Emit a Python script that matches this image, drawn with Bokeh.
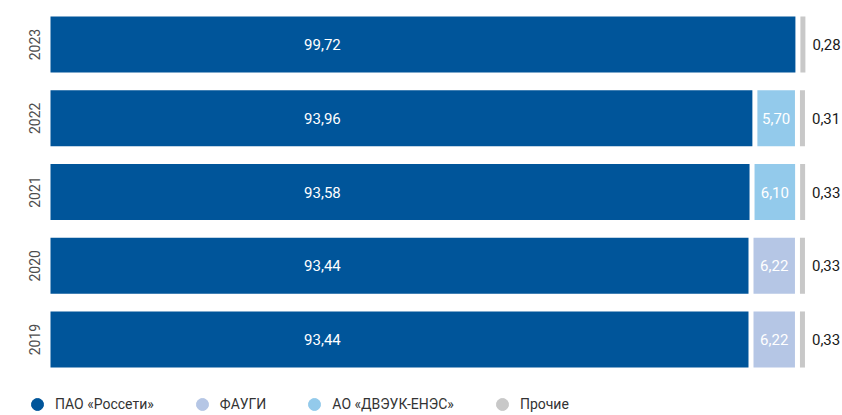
from bokeh.plotting import figure
from bokeh.models import Range1d, Legend, LegendItem, FixedTicker
from bokeh.core.properties import value
from bokeh.embed import file_html
from bokeh.resources import INLINE

# ---- data ----
years = ["2019", "2020", "2021", "2022", "2023"]
rosseti = [93.44, 93.44, 93.58, 93.96, 99.72]
faugi = [6.22, 6.22, 0.0, 0.0, 0.0]
dveuk = [0.0, 0.0, 6.10, 5.70, 0.0]
other = [0.33, 0.33, 0.33, 0.31, 0.28]
series_names = ["ПАО «Россети»", "ФАУГИ", "АО «ДВЭУК-ЕНЭС»", "Прочие"]
colors = ["#00559A", "#B5C6E5", "#93CAEB", "#C8C8C8"]

FONT = "Roboto, sans-serif"
W, H = 842, 415
FRAME_LEFT, FRAME_TOP = 30, 7
BAR_X0 = 50                      # pixel where value 0 sits
PX = 7.47                        # pixels per percentage point
ROW_PX = 73.75                   # pixels per year row
BAR_H = 0.76
GAP = 5 / PX

x_start = -(BAR_X0 - FRAME_LEFT) / PX
x_end = (W - BAR_X0) / PX
pos = list(range(len(years)))    # row index of each year
y_end = pos[-1] + (44 - FRAME_TOP) / ROW_PX
y_start = y_end - (H - FRAME_TOP) / ROW_PX


def fmt(v):
    return f"{v:.2f}".replace(".", ",")


p = figure(width=W, height=H, x_range=Range1d(x_start, x_end),
           y_range=Range1d(y_start, y_end), output_backend="svg",
           toolbar_location=None, min_border_left=FRAME_LEFT, min_border_right=0,
           min_border_top=FRAME_TOP, min_border_bottom=0)
p.outline_line_color = None
p.xgrid.visible = False
p.ygrid.visible = False
p.xaxis.visible = False
ax = p.yaxis[0]
ax.ticker = FixedTicker(ticks=pos)
ax.major_label_overrides = {i: y for i, y in zip(pos, years)}
ax.axis_line_color = None
ax.major_tick_line_color = None
ax.minor_tick_line_color = None
ax.major_label_orientation = "vertical"
ax.major_label_standoff = -15
ax.major_label_text_font = FONT
ax.major_label_text_font_size = "14px"
ax.major_label_text_color = "#4d4d4d"

# dark segment
p.hbar(y=pos, left=0, right=rosseti, height=BAR_H, color=colors[0], line_color=None)

# second segments (ФАУГИ / ДВЭУК)
for vals, col in ((faugi, colors[1]), (dveuk, colors[2])):
    ys = [y for y, v in zip(pos, vals) if v > 0]
    lefts = [r + GAP for r, v in zip(rosseti, vals) if v > 0]
    rights = [r + v for r, v in zip(rosseti, vals) if v > 0]
    labs = [fmt(v) for v in vals if v > 0]
    mids = [(l + r) / 2 for l, r in zip(lefts, rights)]
    p.hbar(y=ys, left=lefts, right=rights, height=BAR_H, color=col, line_color=None)
    p.text(x=mids, y=ys, text=labs, text_align="center", text_baseline="middle",
           text_color="white", text_font=value(FONT), text_font_size="15px")

# others (thin grey marker, minimum visible width)
totals = [r + f + d for r, f, d in zip(rosseti, faugi, dveuk)]
g_left = [t + GAP for t in totals]
g_right = [gl + GAP for gl in g_left]
p.hbar(y=pos, left=g_left, right=g_right, height=BAR_H, color=colors[3], line_color=None)
p.text(x=[gr + 7 / PX for gr in g_right], y=pos, text=[fmt(v) for v in other],
       text_align="left", text_baseline="middle", text_color="#1a1a1a",
       text_font=value(FONT), text_font_size="15px")

# dark labels
LABEL_X = 36.4
p.text(x=[LABEL_X] * len(years), y=pos, text=[fmt(v) for v in rosseti],
       text_align="center", text_baseline="middle", text_color="white",
       text_font=value(FONT), text_font_size="15px")

# legend with circle markers (proxy renderers placed outside the visible range)
items = []
for name, col in zip(series_names, colors):
    r = p.scatter(x=[-1000], y=[-1000], marker="circle", color=col, size=12)
    items.append(LegendItem(label=name, renderers=[r]))
legend = Legend(items=items, orientation="horizontal", location=(-8, -4),
                glyph_width=30, glyph_height=30, label_standoff=3, spacing=33,
                padding=0, margin=0, border_line_color=None,
                background_fill_alpha=0, label_text_font=FONT,
                label_text_font_size="14px", label_text_color="#333333",
                label_text_baseline="middle")
p.add_layout(legend)

open("out.html", "w").write(file_html(p, INLINE))
